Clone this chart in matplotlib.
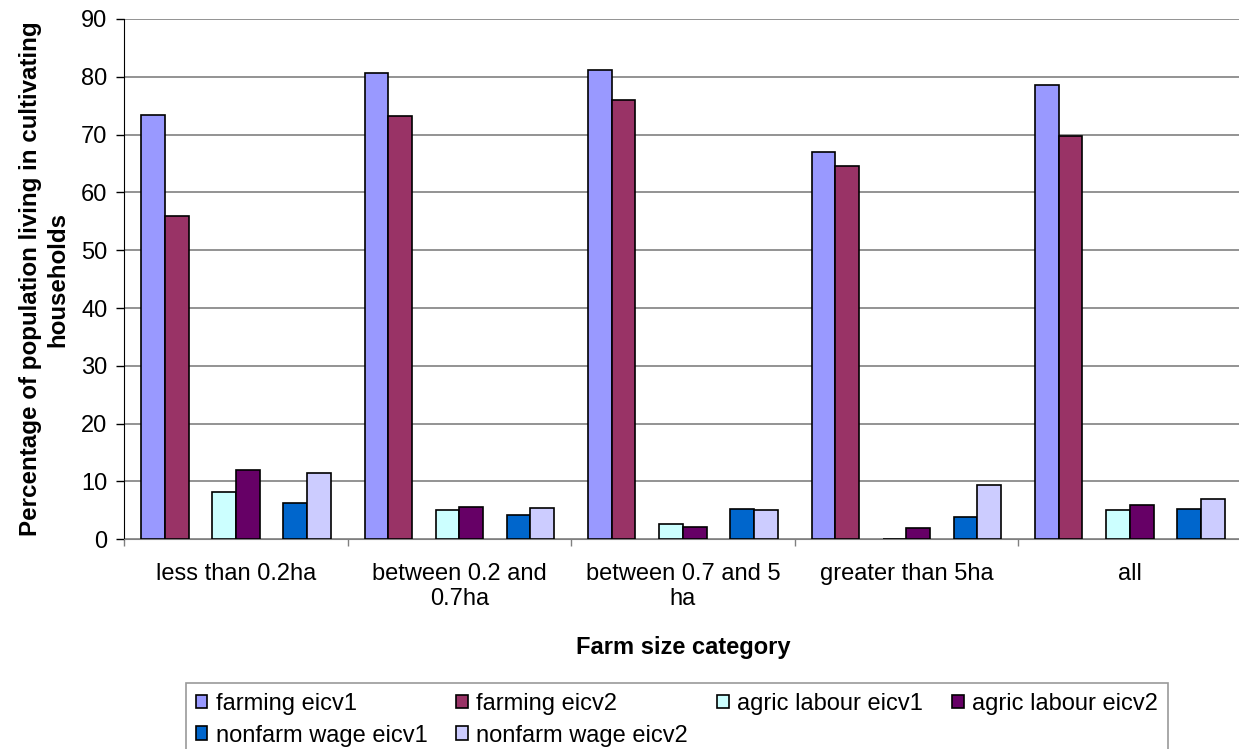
"""Share of population living in cultivating households, by farm size."""

import matplotlib

matplotlib.use("Agg")
import matplotlib.pyplot as plt
import numpy as np

plt.rcParams["font.family"] = ["Liberation Sans", "DejaVu Sans"]

categories = ["less than 0.2ha", "between 0.2 and\n0.7ha", "between 0.7 and 5\nha", "greater than 5ha", "all"]
farming_eicv1 = [73.3, 80.7, 81.2, 67.0, 78.5]
farming_eicv2 = [56.0, 73.2, 75.9, 64.6, 69.7]
agric_labour_eicv1 = [8.2, 5.0, 2.6, 0.0, 5.0]
agric_labour_eicv2 = [12.0, 5.5, 2.1, 1.9, 5.9]
nonfarm_wage_eicv1 = [6.3, 4.2, 5.2, 3.9, 5.2]
nonfarm_wage_eicv2 = [11.4, 5.4, 5.0, 9.4, 6.9]
y_ticks = list(range(0, 100, 10))

series = [
    ("farming eicv1", farming_eicv1, "#9999FF"),
    ("farming eicv2", farming_eicv2, "#993366"),
    ("agric labour eicv1", agric_labour_eicv1, "#CCFFFF"),
    ("agric labour eicv2", agric_labour_eicv2, "#660066"),
    ("nonfarm wage eicv1", nonfarm_wage_eicv1, "#0066CC"),
    ("nonfarm wage eicv2", nonfarm_wage_eicv2, "#CCCCFF"),
]
# pairs of series share a cluster, with an empty slot between pairs
slots = [0, 1, 3, 4, 6, 7]
bar_width = 0.106

fig = plt.figure(figsize=(12.39, 7.49), dpi=100)
ax = fig.add_axes([0.1002, 0.28, 0.9019, 0.6947])

x = np.arange(len(categories))
handles = []
for (label, values, color), slot in zip(series, slots):
    bars = ax.bar(
        x + (slot - 3.5) * bar_width,
        values,
        width=bar_width,
        color=color,
        edgecolor="black",
        linewidth=1.2,
        label=label,
        zorder=3,
    )
    handles.append(bars)

ax.set_xlim(-0.5, len(categories) - 0.5)
ax.set_ylim(0, 90)
ax.set_yticks(y_ticks)
ax.tick_params(axis="y", labelsize=17, length=6, width=1, direction="out", pad=6)
ax.set_xticks(x, labels=categories)
ax.tick_params(axis="x", which="major", length=0, labelsize=17, pad=17)
ax.set_xticks(np.arange(len(categories) + 1) - 0.5, minor=True)
ax.tick_params(axis="x", which="minor", length=5, width=1, color="#808080")

ax.grid(axis="y", color="#808080", linewidth=1.2, zorder=0)
ax.spines["top"].set_visible(False)
ax.spines["right"].set_visible(False)
ax.spines["left"].set_color("black")
ax.spines["bottom"].set_color("#808080")

ax.set_ylabel(
    "Percentage of population living in cultivating\nhouseholds",
    fontsize=17.4,
    weight="bold",
    linespacing=1.25,
)
ax.yaxis.set_label_coords(-0.049, 0.5)
ax.set_xlabel("Farm size category", fontsize=17, weight="bold")
ax.xaxis.set_label_coords(0.5, -0.186)

# legend fills column by column, so reorder to read row by row like the original
legend_order = [0, 4, 1, 5, 2, 3]
legend_left = 185.7 / 1239
legend_top = 1 - 682.7 / 749
legend = fig.legend(
    handles=[handles[i] for i in legend_order],
    loc="upper left",
    bbox_to_anchor=(legend_left, legend_top - 0.1, 1168 / 1239 - legend_left, 0.1),
    mode="expand",
    borderaxespad=0,
    ncol=4,
    fontsize=17,
    frameon=True,
    fancybox=False,
    borderpad=0.42,
    handlelength=0.5,
    handleheight=0.5,
    handletextpad=0.35,
    columnspacing=0.5,
    labelspacing=0.42,
)
legend.get_frame().set_edgecolor("#808080")
legend.get_frame().set_linewidth(1.2)

fig.savefig("out.png", dpi=100)
plt.close(fig)
